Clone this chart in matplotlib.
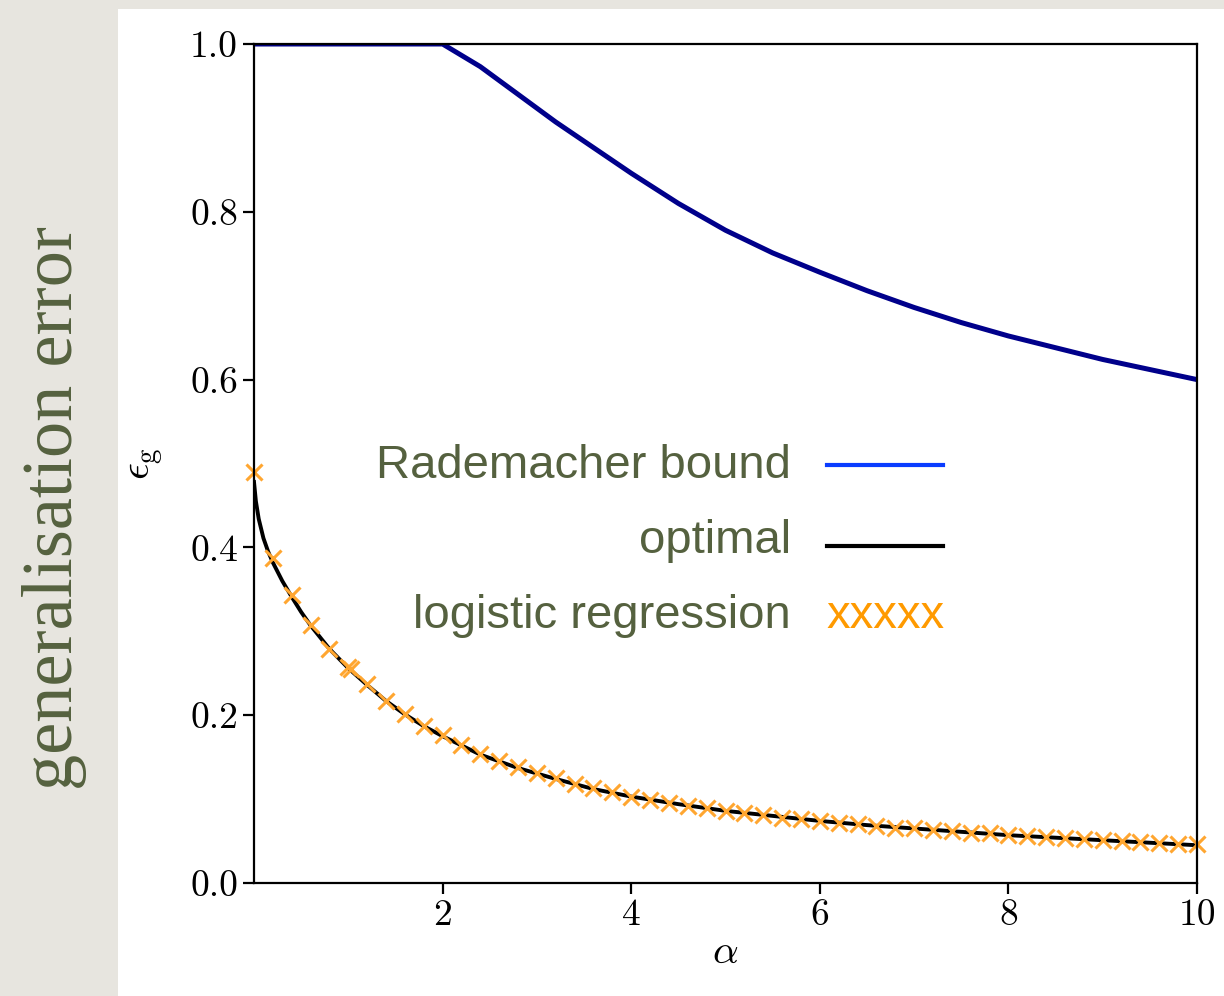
import numpy as np
import matplotlib
matplotlib.use("Agg")
import matplotlib.pyplot as plt
from matplotlib.patches import Rectangle
from matplotlib.lines import Line2D

plt.rcParams['font.family'] = 'serif'
plt.rcParams['font.serif'] = ['cmr10']
plt.rcParams['mathtext.fontset'] = 'cm'
plt.rcParams['axes.unicode_minus'] = False

# Rademacher bound
alpha_rad = [0, 2.0, 2.4, 3.2, 4.0, 4.5, 5.0, 5.5, 6.0, 6.5, 7.0, 7.5, 8.0, 8.5, 9.0, 9.5, 10.0]
eps_rad = [1.0, 1.0, 0.973, 0.907, 0.846, 0.810, 0.778, 0.751, 0.728, 0.706, 0.686,
           0.668, 0.652, 0.638, 0.624, 0.612, 0.600]

# optimal error
alpha_opt = [0, 0.02, 0.05, 0.1, 0.15, 0.2, 0.3, 0.4, 0.5, 0.6, 0.8, 1.0, 1.2, 1.4,
             1.6, 1.8, 2.0, 2.4, 2.8, 3.2, 3.6, 4.0, 4.5, 5.0, 5.5, 6.0, 6.5, 7.0, 7.5,
             8.0, 8.5, 9.0, 9.5, 10.0]
eps_opt = [0.478, 0.455, 0.434, 0.411, 0.395, 0.382, 0.360, 0.341, 0.323, 0.307, 0.279,
           0.256, 0.236, 0.217, 0.201, 0.187, 0.175, 0.153, 0.137, 0.124, 0.112, 0.103,
           0.094, 0.086, 0.080, 0.074, 0.069, 0.065, 0.061, 0.057, 0.054, 0.051, 0.048, 0.045]

# logistic regression (every 0.2)
alpha_lr = np.round(np.arange(0, 10.01, 0.2), 2)
eps_lr = [0.490, 0.387, 0.343, 0.308, 0.279, 0.257, 0.237, 0.217, 0.201, 0.187,
          0.176, 0.164, 0.154, 0.146, 0.138, 0.131, 0.125, 0.118, 0.113, 0.108,
          0.103, 0.099, 0.095, 0.092, 0.089, 0.086, 0.083, 0.081, 0.078, 0.076,
          0.074, 0.072, 0.070, 0.068, 0.066, 0.065, 0.063, 0.062, 0.060, 0.059,
          0.057, 0.056, 0.055, 0.054, 0.052, 0.051, 0.050, 0.049, 0.048, 0.047, 0.046]
alpha_extra = [1.03]
eps_extra = [0.255]

legend_labels = ["Rademacher bound", "optimal", "logistic regression"]

fig = plt.figure(figsize=(12.24, 9.96), dpi=100)
fig.patch.set_facecolor('#e7e5df')
# white slide panel
fig.patches.append(Rectangle((118 / 1224, 0), 1 - 118 / 1224, 1 - 9 / 996,
                             transform=fig.transFigure, facecolor='white',
                             edgecolor='none', zorder=-10))

ax = fig.add_axes([254 / 1224, 1 - 883 / 996, (1197 - 254) / 1224, (883 - 44) / 996])
ax.plot(alpha_rad, eps_rad, color='#00008b', lw=3.6, solid_joinstyle='miter')
ax.plot(alpha_opt, eps_opt, color='black', lw=2.8)
ax.plot(alpha_lr, eps_lr, 'x', color='#ffa630', ms=12, mew=2.2, clip_on=False)
ax.plot(alpha_extra, eps_extra, 'x', color='#ffa630', ms=12, mew=2.2)

ax.set_xlim(0, 10)
ax.set_ylim(0, 1.0)
ax.set_xticks([2, 4, 6, 8, 10])
ax.set_yticks([0.0, 0.2, 0.4, 0.6, 0.8, 1.0])
ax.set_yticklabels(["0.0", "0.2", "0.4", "0.6", "0.8", "1.0"])
ax.tick_params(labelsize=27, width=1.6, length=8, direction='out')
for s in ax.spines.values():
    s.set_linewidth(1.6)
    s.set_zorder(3)
ax.set_xlabel(r'$\alpha$', fontsize=29, labelpad=2)
ax.set_ylabel(r'$\epsilon_{\rm g}$', fontsize=30, labelpad=18)

# slide-level annotations
green = '#55613f'
fig.text(55 / 1224, 1 - 508 / 996, "generalisation error", rotation=90,
         ha='center', va='center', fontsize=52, color=green, family='Liberation Serif')

rows_y = [478, 553, 628]
for lab, y in zip(legend_labels, rows_y):
    fig.text(791 / 1224, 1 - y / 996, lab, ha='right', va='baseline', fontsize=34,
             color=green, family='Liberation Sans')
fig.add_artist(Line2D([827 / 1224, 943 / 1224], [1 - 465 / 996, 1 - 465 / 996],
                      transform=fig.transFigure, color='#0a3cff', lw=3))
fig.add_artist(Line2D([827 / 1224, 943 / 1224], [1 - 546 / 996, 1 - 546 / 996],
                      transform=fig.transFigure, color='black', lw=3))
fig.text(826 / 1224, 1 - 628 / 996, "xxxxx", ha='left', va='baseline', fontsize=34,
         color='#ff9a00', family='Liberation Sans')

fig.savefig("out.png", dpi=100, facecolor=fig.get_facecolor())
